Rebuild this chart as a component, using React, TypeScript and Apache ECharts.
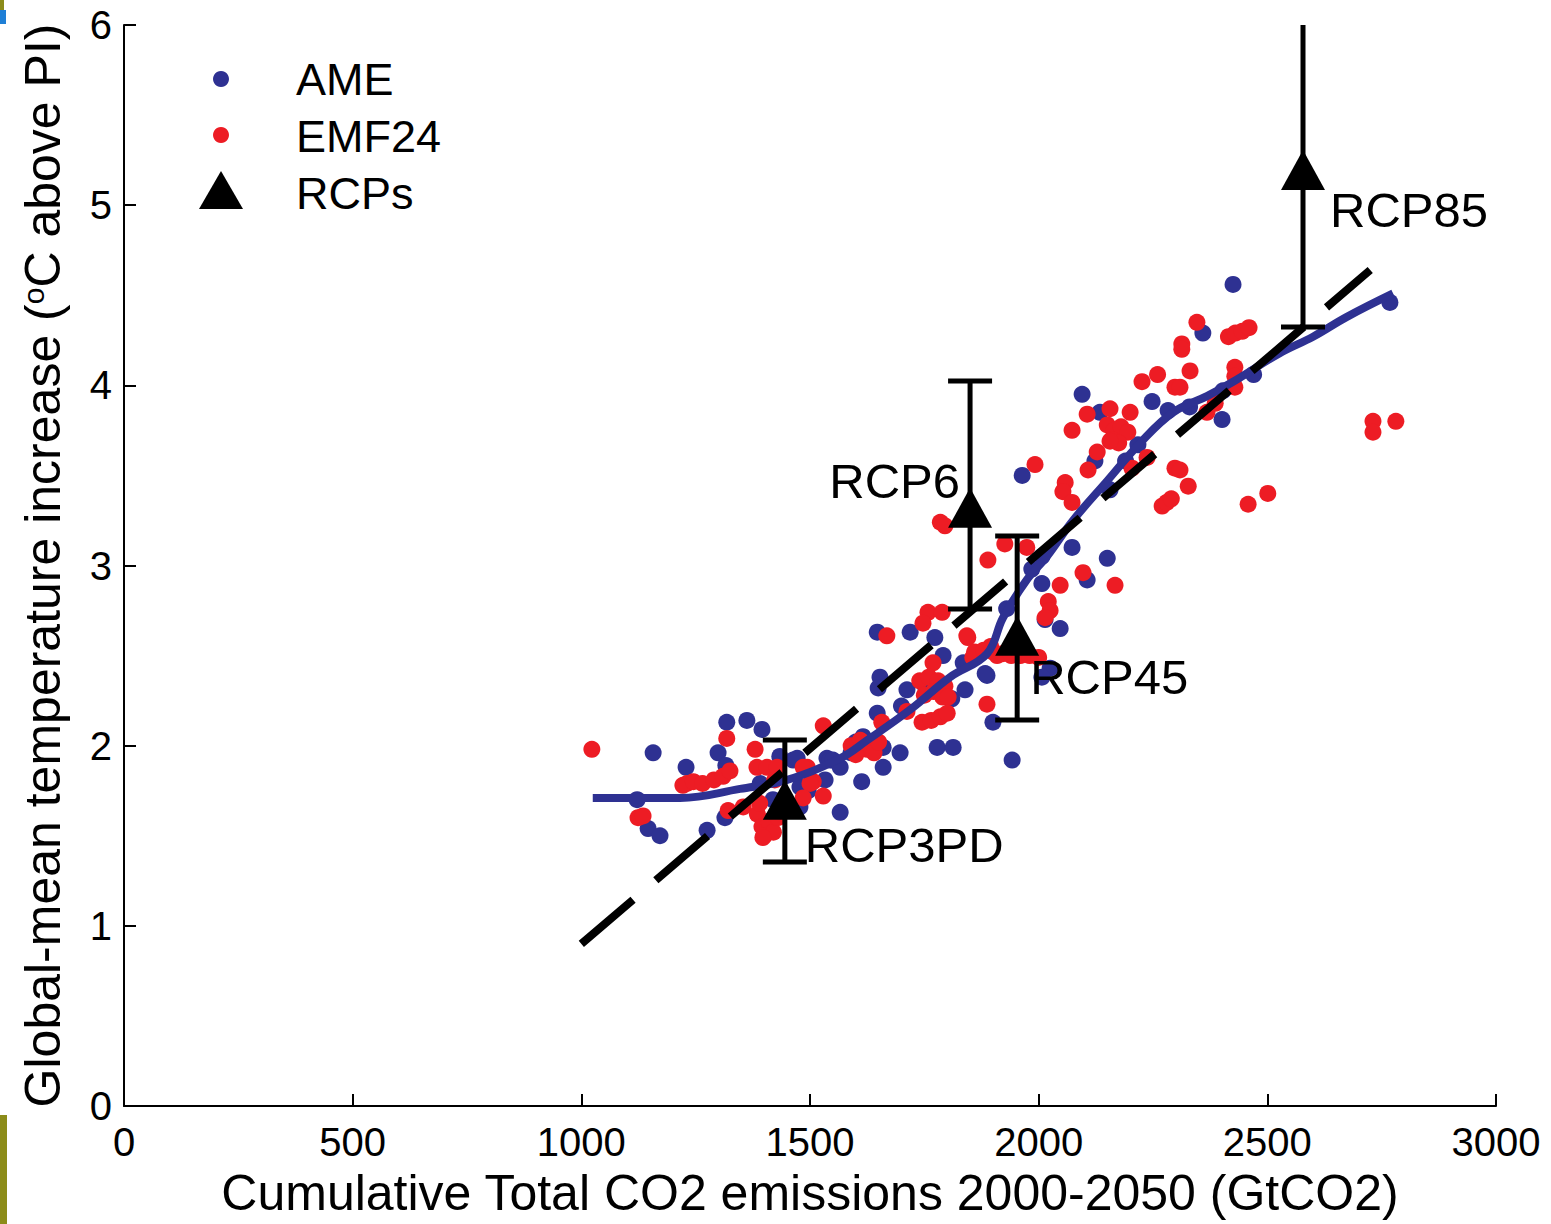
import React, { useEffect, useRef } from 'react';
import * as echarts from 'echarts';

const FONT = '"Liberation Sans", Arial, Helvetica, sans-serif';
const BLUE = '#2e3192';
const RED = '#ed1c24';

// AME scenarios: [cumulative CO2 (GtCO2), temperature (°C)]
const amePoints: number[][] = [
  [1157, 1.96], [1229, 1.88], [1122, 1.70], [1146, 1.54], [1172, 1.50], [1318, 2.13], [1362, 2.14],
  [1395, 2.09], [1299, 1.96], [1316, 1.89], [1463, 1.92], [1537, 1.93], [1533, 1.81], [1478, 1.66],
  [1391, 1.79], [1419, 1.70], [1314, 1.60], [1275, 1.53], [1566, 1.63], [1434, 1.94], [1472, 1.93],
  [1544, 1.92], [1478, 1.77], [1496, 1.75],
  [1647, 2.63], [1719, 2.63], [1773, 2.60], [1791, 2.50], [1835, 2.46], [1887, 2.39], [1653, 2.38],
  [1649, 2.32], [1712, 2.31], [1810, 2.26], [1839, 2.31], [1900, 2.13], [1647, 2.18], [1616, 2.05],
  [1660, 1.99], [1697, 1.96], [1778, 1.99], [1813, 1.99], [1660, 1.88], [1613, 1.80], [1550, 1.92],
  [1566, 1.88], [1590, 1.96], [1600, 2.02], [1700, 2.22], [1750, 2.34],
  [2007, 3.05], [2073, 3.10], [2106, 2.92], [2007, 2.90], [2014, 2.70], [2047, 2.65], [1883, 2.40],
  [2025, 2.43], [2007, 2.38], [1942, 1.92], [1930, 2.76], [1985, 2.98],
  [2095, 3.95], [2248, 3.91], [2283, 3.86], [2134, 3.85], [2217, 3.67], [2123, 3.58], [2156, 3.42],
  [2150, 3.04], [1964, 3.50], [2190, 3.58], [2330, 3.88], [2470, 4.06],
  [2425, 4.56], [2359, 4.29], [2401, 3.81], [2403, 3.97], [2768, 4.46],
];

// EMF24 scenarios
const emfPoints: number[][] = [
  [1023, 1.98], [1231, 1.79], [1124, 1.60], [1135, 1.61], [1318, 2.04], [1222, 1.78], [1245, 1.80],
  [1265, 1.79], [1290, 1.81], [1310, 1.83], [1325, 1.86], [1380, 1.98], [1529, 2.11], [1384, 1.88],
  [1406, 1.88], [1428, 1.88], [1494, 1.88], [1485, 1.88], [1507, 1.80], [1500, 1.79], [1423, 1.81],
  [1529, 1.72], [1485, 1.71], [1321, 1.64], [1354, 1.66], [1385, 1.62], [1395, 1.55], [1410, 1.58],
  [1400, 1.50], [1420, 1.52], [1390, 1.68], [1430, 1.60], [1397, 1.49], [1609, 1.99],
  [1758, 2.74], [1789, 2.74], [1747, 2.68], [1668, 2.61], [1843, 2.61], [1769, 2.46], [1856, 2.49],
  [1875, 2.52], [1895, 2.55], [1909, 2.50], [1740, 2.36], [1760, 2.38], [1780, 2.36], [1795, 2.33],
  [1750, 2.28], [1770, 2.30], [1790, 2.27], [1802, 2.27], [1887, 2.23], [1745, 2.13], [1765, 2.14],
  [1785, 2.16], [1800, 2.18], [1712, 2.19], [1657, 2.13], [1590, 2.00], [1610, 2.03], [1625, 1.98],
  [1640, 1.96], [1650, 2.02], [1600, 1.95],
  [1889, 3.03], [1926, 3.12], [1974, 3.10], [2097, 2.96], [2047, 2.89], [2021, 2.80], [2025, 2.75],
  [2014, 2.71], [1845, 2.60], [1860, 2.52], [1880, 2.53], [1900, 2.52], [1920, 2.51], [1940, 2.50],
  [1960, 2.50], [1980, 2.50], [2000, 2.49], [1785, 3.24], [1795, 3.22],
  [2226, 4.02], [2298, 3.99], [2156, 3.87], [2106, 3.84], [2200, 3.85], [2073, 3.75], [2150, 3.78],
  [2165, 3.75], [2180, 3.77], [2195, 3.74], [2160, 3.70], [2175, 3.68], [2156, 3.69], [2128, 3.63],
  [2108, 3.53], [2237, 3.60], [2204, 3.54], [2298, 3.54], [2327, 3.44], [2270, 3.33], [2280, 3.35],
  [2290, 3.37], [2058, 3.46], [2053, 3.41], [2073, 3.35], [2167, 2.89], [1992, 3.56], [2260, 4.06],
  [2346, 4.35], [2415, 4.27], [2430, 4.29], [2445, 4.30], [2460, 4.32], [2313, 4.23], [2313, 4.20],
  [2331, 4.08], [2429, 4.10], [2429, 4.05], [2429, 3.99], [2386, 3.90], [2368, 3.85], [2309, 3.99],
  [2309, 3.53], [2458, 3.34], [2501, 3.40], [2731, 3.80], [2731, 3.74], [2781, 3.80],
];

// Smoothed (loess-like) fit through the scenarios
const fitX = [1025, 1128, 1216, 1347, 1450, 1566, 1625, 1719, 1806, 1887, 1922, 1974, 2018, 2075, 2150, 2222, 2294, 2368, 2425, 2528, 2600, 2674, 2775];
const fitY = [1.71, 1.71, 1.71, 1.76, 1.81, 1.93, 2.03, 2.20, 2.38, 2.51, 2.71, 2.92, 3.05, 3.25, 3.47, 3.68, 3.85, 3.94, 4.02, 4.18, 4.27, 4.38, 4.51];

// Linear regression (dashed)
const regX = [1000, 2725];
const regY = [0.9, 4.64];

// RCPs
const rcpNames = ['RCP3PD', 'RCP6', 'RCP45', 'RCP85'];
const rcpX = [1445, 1850, 1953, 2578];
const rcpY = [1.70, 3.32, 2.61, 5.195];
const rcpLow = [1.354, 2.758, 2.142, 4.324];
const rcpHigh = [2.031, 4.024, 3.164, 6.4];

const xTicks = { min: 0, max: 3000, interval: 500 };
const yTicks = { min: 0, max: 6, interval: 1 };

const labelPlacement: Record<string, { position: string; offset: number[] }> = {
  RCP3PD: { position: 'right', offset: [-2, 45] },
  RCP6: { position: 'left', offset: [12, -27] },
  RCP45: { position: 'right', offset: [-9, 41] },
  RCP85: { position: 'right', offset: [5, 40] },
};

export default function App() {
  const ref = useRef<HTMLDivElement>(null);

  useEffect(() => {
    if (!ref.current) return;
    const chart = echarts.init(ref.current, undefined, { renderer: 'svg' });

    const axisCommon = {
      axisLine: { show: true, lineStyle: { color: '#000', width: 2 } },
      axisTick: { show: true, inside: true, length: 12, lineStyle: { color: '#000', width: 2 } },
      splitLine: { show: false },
    };

    const option: any = {
      animation: false,
      backgroundColor: '#fff',
      grid: { left: 124, top: 25, width: 1372, height: 1081, containLabel: false },
      xAxis: {
        type: 'value',
        ...xTicks,
        ...axisCommon,
        axisLabel: {
          color: '#000',
          fontSize: 40,
          fontFamily: FONT,
          margin: 16,
          formatter: (v: number) => String(v),
        },
        name: 'Cumulative Total CO2 emissions 2000-2050 (GtCO2)',
        nameLocation: 'middle',
        nameGap: 62,
        nameTextStyle: { color: '#000', fontSize: 50, fontFamily: FONT },
      },
      yAxis: {
        type: 'value',
        ...yTicks,
        ...axisCommon,
        axisLabel: {
          color: '#000',
          fontSize: 40,
          fontFamily: FONT,
          margin: 12,
          formatter: (v: number) => String(v),
        },
        name: 'Global-mean temperature increase ({sup|o}C above PI)',
        nameLocation: 'middle',
        nameRotate: 90,
        nameGap: 56,
        nameTextStyle: {
          color: '#000',
          fontSize: 50,
          fontFamily: FONT,
          rich: { sup: { fontSize: 30, fontFamily: FONT, color: '#000', verticalAlign: 'top' } },
        },
      },
      series: [
        {
          name: 'AME',
          type: 'scatter',
          data: amePoints,
          symbol: 'circle',
          symbolSize: 17,
          itemStyle: { color: BLUE, opacity: 1 },
          z: 2,
        },
        {
          name: 'EMF24',
          type: 'scatter',
          data: emfPoints,
          symbol: 'circle',
          symbolSize: 17,
          itemStyle: { color: RED, opacity: 1 },
          z: 3,
        },
        {
          name: 'fit',
          type: 'line',
          data: fitX.map((x, i) => [x, fitY[i]]),
          smooth: 0.4,
          symbol: 'none',
          lineStyle: { color: BLUE, width: 8 },
          z: 4,
        },
        {
          name: 'regression',
          type: 'line',
          data: regX.map((x, i) => [x, regY[i]]),
          symbol: 'none',
          lineStyle: { color: '#000', width: 8, type: [68, 30], cap: 'butt' },
          z: 5,
        },
        {
          name: 'RCP range',
          type: 'custom',
          clip: true,
          data: rcpX.map((x, i) => [x, rcpLow[i], rcpHigh[i]]),
          encode: { x: 0, y: [1, 2] },
          renderItem: (params: any, api: any) => {
            const x = api.value(0);
            const lo = api.coord([x, api.value(1)]);
            const hi = api.coord([x, api.value(2)]);
            const hw = 22;
            const st = { stroke: '#000', lineWidth: 5 };
            return {
              type: 'group',
              children: [
                { type: 'line', shape: { x1: lo[0], y1: lo[1], x2: hi[0], y2: hi[1] }, style: st },
                { type: 'line', shape: { x1: lo[0] - hw, y1: lo[1], x2: lo[0] + hw, y2: lo[1] }, style: st },
                { type: 'line', shape: { x1: hi[0] - hw, y1: hi[1], x2: hi[0] + hw, y2: hi[1] }, style: st },
              ],
            };
          },
          z: 6,
        },
        {
          name: 'RCPs',
          type: 'scatter',
          symbol: 'triangle',
          symbolSize: [44, 40],
          itemStyle: { color: '#000', opacity: 1 },
          z: 7,
          data: rcpNames.map((n, i) => ({
            value: [rcpX[i], rcpY[i]],
            name: n,
            label: {
              show: true,
              formatter: n,
              position: labelPlacement[n].position,
              distance: 0,
              offset: labelPlacement[n].offset,
              color: '#000',
              fontSize: 49,
              fontFamily: FONT,
            },
          })),
        },
      ],
      graphic: [
        { type: 'circle', shape: { cx: 221, cy: 79, r: 8 }, style: { fill: BLUE } },
        { type: 'circle', shape: { cx: 221, cy: 135, r: 8 }, style: { fill: RED } },
        { type: 'polygon', shape: { points: [[199, 209], [243, 209], [221, 171]] }, style: { fill: '#000' } },
        { type: 'text', x: 296, y: 79, style: { text: 'AME', fontSize: 45, fontFamily: FONT, fill: '#000', verticalAlign: 'middle' } },
        { type: 'text', x: 296, y: 136, style: { text: 'EMF24', fontSize: 45, fontFamily: FONT, fill: '#000', verticalAlign: 'middle' } },
        { type: 'text', x: 296, y: 193, style: { text: 'RCPs', fontSize: 45, fontFamily: FONT, fill: '#000', verticalAlign: 'middle' } },
        { type: 'rect', shape: { x: 0, y: 1115, width: 7, height: 109 }, style: { fill: '#8c8c1a' } },
        { type: 'rect', shape: { x: 0, y: 0, width: 4, height: 10 }, style: { fill: '#8c8c1a' } },
        { type: 'rect', shape: { x: 0, y: 10, width: 6, height: 14 }, style: { fill: '#1f7fd6' } },
      ],
    };

    chart.setOption(option);
    return () => chart.dispose();
  }, []);

  return (
    <div
      ref={ref}
      style={{ position: 'fixed', left: 0, top: 0, width: 1551, height: 1224, background: '#fff' }}
    />
  );
}
